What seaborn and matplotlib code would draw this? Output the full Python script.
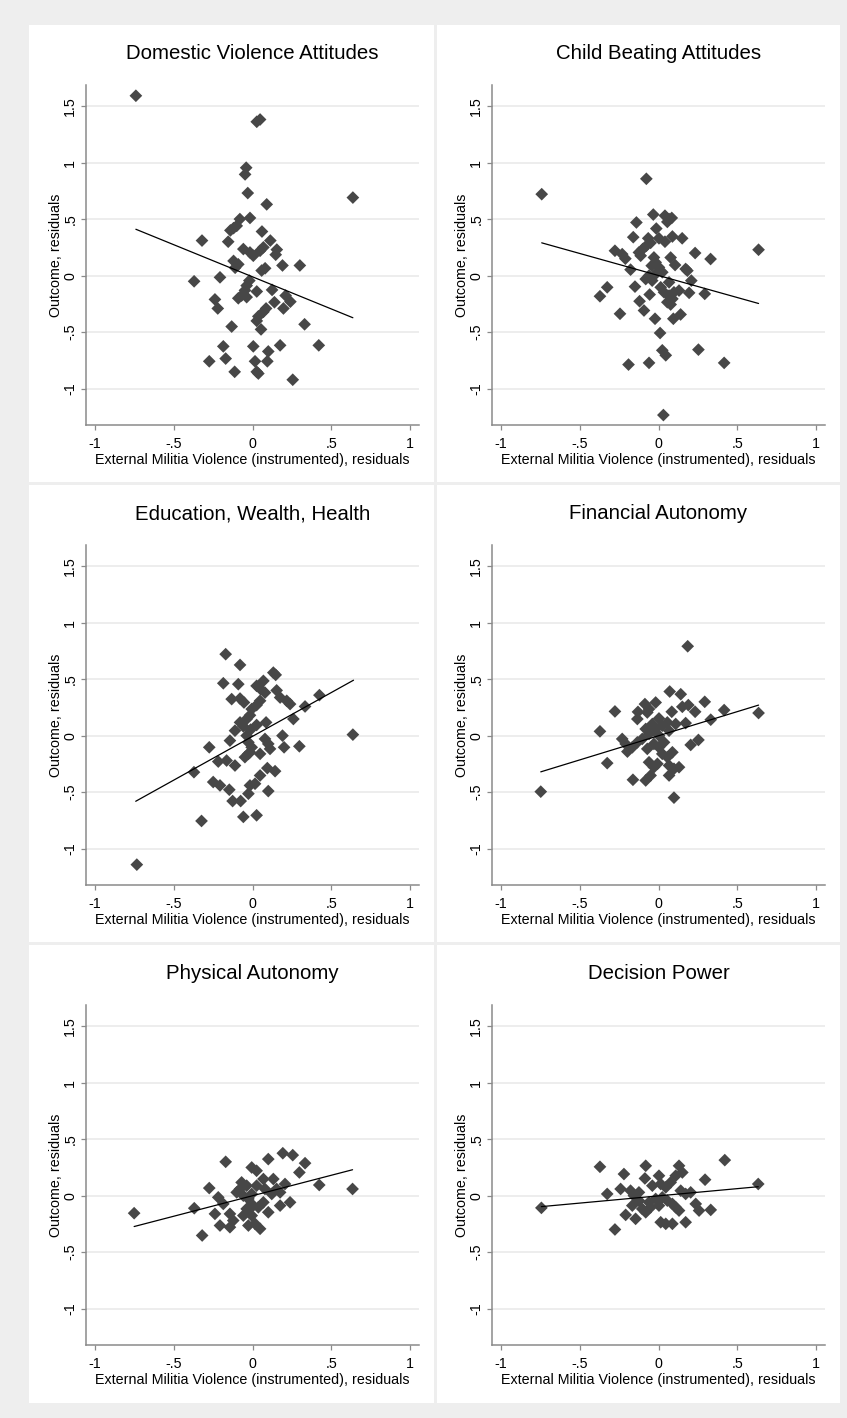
import numpy as np
import pandas as pd
import matplotlib
matplotlib.use("Agg")
import matplotlib.pyplot as plt
import seaborn as sns
from matplotlib.patches import Rectangle

sns.set_theme(style="ticks")
plt.rcParams['font.family'] = ['Liberation Sans', 'DejaVu Sans']

# ---------------- data ----------------
titles = ["Domestic Violence Attitudes", "Child Beating Attitudes",
          "Education, Wealth, Health", "Financial Autonomy",
          "Physical Autonomy", "Decision Power"]
x_label = "External Militia Violence (instrumented), residuals"
y_label = "Outcome, residuals"
x_ticks = [-1, -0.5, 0, 0.5, 1]
x_tick_labels = ["-1", "-.5", "0", ".5", "1"]
y_ticks = [-1, -0.5, 0, 0.5, 1, 1.5]
y_tick_labels = ["-1", "-.5", "0", ".5", "1", "1.5"]

dv_points = [(-0.739, 1.59), (0.027, 1.36), (0.048, 1.38), (-0.04, 0.954), (-0.047, 0.895),
             (-0.03, 0.73), (0.09, 0.63), (0.636, 0.69), (-0.08, 0.50), (-0.016, 0.51),
             (-0.10, 0.44), (-0.14, 0.40), (-0.12, 0.42), (-0.32, 0.31), (-0.154, 0.30),
             (0.06, 0.39), (0.113, 0.31), (0.154, 0.23), (0.147, 0.185), (-0.058, 0.235),
             (-0.016, 0.205), (0.005, 0.176), (0.048, 0.22), (0.069, 0.25), (-0.12, 0.13),
             (-0.09, 0.10), (-0.11, 0.07), (0.19, 0.09), (0.30, 0.09), (0.058, 0.045),
             (0.08, 0.065), (-0.37, -0.05), (-0.206, -0.015), (-0.02, -0.044), (-0.037, -0.088),
             (-0.048, -0.13), (-0.069, -0.176), (-0.09, -0.2), (-0.037, -0.19), (0.027, -0.14),
             (0.124, -0.126), (0.21, -0.176), (0.24, -0.23), (0.196, -0.29), (0.139, -0.235),
             (-0.238, -0.21), (-0.22, -0.29), (0.086, -0.29), (0.069, -0.32), (0.037, -0.36),
             (0.027, -0.40), (0.054, -0.475), (-0.132, -0.45), (0.33, -0.43), (-0.185, -0.625),
             (0.005, -0.625), (0.10, -0.67), (0.175, -0.616), (0.42, -0.616), (-0.274, -0.757),
             (-0.17, -0.733), (0.016, -0.757), (0.094, -0.757), (-0.113, -0.85), (0.027, -0.85),
             (0.037, -0.865), (0.255, -0.92)]
dv_fit = [(-0.739, 0.41), (0.636, -0.372)]

cb_points = [(-0.74, 0.72), (-0.077, 0.856), (-0.033, 0.54), (0.041, 0.53), (0.067, 0.50),
             (0.084, 0.51), (0.056, 0.475), (-0.14, 0.47), (-0.014, 0.416), (-0.16, 0.34),
             (-0.065, 0.33), (-0.05, 0.29), (-0.077, 0.264), (-0.10, 0.235), (-0.124, 0.205),
             (-0.113, 0.176), (0.003, 0.33), (0.041, 0.30), (0.088, 0.346), (0.15, 0.33),
             (-0.276, 0.22), (-0.23, 0.19), (-0.21, 0.15), (0.232, 0.20), (0.33, 0.147),
             (0.634, 0.229), (-0.029, 0.161), (-0.018, 0.117), (-0.043, 0.088), (0.003, 0.073),
             (0.024, 0.03), (-0.018, 0.015), (-0.06, 0.0), (-0.081, -0.03), (-0.04, -0.044),
             (0.077, 0.16), (0.105, 0.094), (0.172, 0.059), (0.183, 0.044), (-0.177, 0.053),
             (0.208, -0.044), (0.067, -0.059), (0.014, -0.103), (0.035, -0.147), (0.067, -0.176),
             (0.088, -0.205), (0.098, -0.147), (0.13, -0.132), (0.056, -0.235), (0.077, -0.255),
             (-0.149, -0.097), (-0.325, -0.103), (-0.371, -0.182), (-0.056, -0.167), (0.194, -0.152),
             (0.293, -0.161), (-0.12, -0.226), (-0.092, -0.308), (-0.244, -0.337), (-0.022, -0.381),
             (0.094, -0.381), (0.14, -0.343), (0.01, -0.507), (0.024, -0.66), (0.046, -0.704),
             (0.253, -0.654), (-0.19, -0.786), (-0.06, -0.771), (0.416, -0.771), (0.031, -1.232)]
cb_fit = [(-0.74, 0.29), (0.634, -0.246)]

ewh_points = [(-0.733, -1.14), (-0.17, 0.72), (-0.079, 0.625), (0.132, 0.557), (0.147, 0.537),
              (-0.185, 0.463), (-0.09, 0.455), (0.026, 0.44), (0.069, 0.484), (0.052, 0.41),
              (0.079, 0.38), (0.153, 0.40), (0.175, 0.337), (0.217, 0.308), (0.238, 0.279),
              (-0.132, 0.323), (-0.079, 0.328), (-0.054, 0.293), (0.048, 0.308), (0.026, 0.27),
              (-0.005, 0.235), (0.424, 0.358), (0.333, 0.258), (0.259, 0.147), (-0.016, 0.18),
              (-0.037, 0.147), (-0.079, 0.117), (-0.058, 0.082), (-0.111, 0.044), (0.026, 0.094),
              (0.086, 0.117), (-0.012, 0.053), (-0.143, -0.044), (-0.037, 0.0), (-0.026, -0.059),
              (-0.005, -0.103), (-0.016, -0.147), (-0.048, -0.19), (-0.026, -0.161), (0.079, -0.029),
              (0.10, -0.073), (0.111, -0.117), (0.048, -0.161), (0.19, 0.0), (0.20, -0.103),
              (0.297, -0.094), (0.636, 0.009), (-0.274, -0.103), (-0.217, -0.229), (-0.164, -0.22),
              (-0.111, -0.264), (0.048, -0.352), (0.094, -0.287), (0.143, -0.314), (0.10, -0.49),
              (-0.249, -0.41), (-0.206, -0.44), (-0.147, -0.478), (-0.016, -0.44), (0.016, -0.425),
              (-0.026, -0.513), (-0.126, -0.578), (-0.075, -0.578), (-0.058, -0.718), (0.026, -0.704),
              (-0.323, -0.754), (-0.371, -0.323)]
ewh_fit = [(-0.74, -0.58), (0.64, 0.49)]

fa_points = [(-0.746, -0.495), (0.185, 0.79), (0.071, 0.39), (0.141, 0.366), (-0.086, 0.279),
             (-0.06, 0.235), (-0.018, 0.293), (-0.071, 0.205), (-0.276, 0.214), (-0.13, 0.21),
             (-0.134, 0.147), (0.084, 0.211), (0.151, 0.255), (0.189, 0.27), (0.232, 0.211),
             (0.293, 0.299), (0.416, 0.226), (0.634, 0.2), (0.331, 0.141), (0.003, 0.152),
             (-0.039, 0.103), (0.024, 0.088), (0.056, 0.117), (-0.018, 0.059), (-0.081, 0.059),
             (-0.06, 0.015), (0.003, 0.0), (0.109, 0.103), (0.172, 0.111), (0.067, 0.044),
             (-0.371, 0.038), (-0.23, -0.029), (-0.208, -0.073), (-0.197, -0.141), (-0.166, -0.103),
             (-0.134, -0.059), (-0.103, -0.029), (-0.071, -0.117), (-0.029, -0.073), (0.003, -0.103),
             (0.024, -0.161), (0.056, -0.19), (0.088, -0.147), (0.035, -0.059), (-0.007, -0.249),
             (0.204, -0.082), (0.253, -0.038), (-0.325, -0.243), (-0.06, -0.235), (-0.029, -0.279),
             (0.067, -0.264), (0.098, -0.293), (0.13, -0.279), (0.067, -0.352), (-0.162, -0.39),
             (-0.081, -0.396), (-0.05, -0.352), (0.098, -0.548)]
fa_fit = [(-0.746, -0.32), (0.634, 0.27)]

pa_points = [(-0.75, -0.155), (-0.369, -0.111), (-0.319, -0.352), (-0.274, 0.067), (-0.17, 0.299),
             (-0.238, -0.161), (-0.206, -0.264), (-0.143, -0.279), (-0.217, -0.015), (-0.185, -0.073),
             (-0.143, -0.161), (-0.122, -0.22), (-0.1, 0.029), (-0.069, 0.117), (-0.079, 0.059),
             (-0.037, 0.088), (-0.058, 0.0), (-0.026, -0.029), (-0.005, 0.015), (0.005, -0.088),
             (-0.037, -0.117), (-0.058, -0.176), (-0.005, -0.176), (-0.026, -0.264), (0.016, -0.249),
             (0.048, -0.293), (0.037, -0.103), (0.069, -0.059), (0.026, 0.088), (-0.005, 0.249),
             (0.026, 0.22), (0.069, 0.147), (0.1, 0.323), (0.132, 0.147), (0.175, 0.029),
             (0.206, 0.103), (0.238, -0.059), (0.175, -0.088), (0.1, -0.147), (0.153, 0.059),
             (0.122, 0.015), (0.079, 0.059), (0.192, 0.375), (0.255, 0.358), (0.333, 0.287),
             (0.297, 0.205), (0.423, 0.094), (0.634, 0.059)]
pa_fit = [(-0.75, -0.273), (0.634, 0.229)]

dp_points = [(-0.742, -0.108), (-0.371, 0.255), (-0.325, 0.015), (-0.276, -0.299), (-0.219, 0.191),
             (-0.24, 0.059), (-0.081, 0.264), (-0.086, 0.152), (-0.208, -0.17), (-0.145, -0.205),
             (-0.177, 0.044), (-0.156, 0.0), (-0.166, -0.088), (-0.124, -0.044), (-0.103, -0.117),
             (-0.081, -0.147), (-0.05, -0.103), (-0.124, 0.029), (-0.039, 0.088), (0.003, 0.176),
             (0.014, 0.103), (0.046, 0.073), (0.077, 0.117), (0.109, 0.176), (0.13, 0.264),
             (0.151, 0.205), (0.141, 0.044), (0.172, 0.015), (0.204, 0.029), (0.024, -0.015),
             (0.056, -0.044), (0.088, -0.073), (-0.018, -0.029), (0.003, -0.088), (-0.06, -0.059),
             (0.109, -0.103), (0.13, -0.132), (0.014, -0.235), (0.046, -0.249), (0.088, -0.249),
             (0.172, -0.235), (0.236, -0.073), (0.257, -0.132), (0.331, -0.126), (0.295, 0.141),
             (0.42, 0.314), (0.632, 0.103)]
dp_fit = [(-0.742, -0.097), (0.632, 0.079)]

panels = [(dv_points, dv_fit), (cb_points, cb_fit), (ewh_points, ewh_fit),
          (fa_points, fa_fit), (pa_points, pa_fit), (dp_points, dp_fit)]

# ---------------- figure ----------------
W, H = 847, 1418
fig = plt.figure(figsize=(W / 100, H / 100), dpi=100, facecolor="#eeeeee")

def px_rect(x0, y0, x1, y1):
    return [x0 / W, 1 - y1 / H, (x1 - x0) / W, (y1 - y0) / H]

# white panel backgrounds
cols = [(29, 434), (437, 840)]
rows = [(25, 482), (485, 942), (945, 1403)]
for (r0, r1) in rows:
    for (c0, c1) in cols:
        b = px_rect(c0, r0, c1, r1)
        fig.add_artist(Rectangle((b[0], b[1]), b[2], b[3], transform=fig.transFigure,
                                 facecolor="white", edgecolor="none", zorder=0))

marker_color = "#474747"
axis_color = "#8a8a8a"
for i, (title, (pts, fit)) in enumerate(zip(titles, panels)):
    r, c = divmod(i, 2)
    left = 86 + 406 * c
    top = 85 + 460 * r
    ax = fig.add_axes(px_rect(left, top, left + 333, top + 340))
    ax.set_facecolor("white")
    df = pd.DataFrame(pts, columns=["x", "y"])
    fdf = pd.DataFrame(fit, columns=["x", "y"])
    ax.yaxis.grid(True, color="#e8e8e8", lw=1.1)
    ax.set_axisbelow(True)
    sns.scatterplot(data=df, x="x", y="y", marker="D", s=42, color=marker_color,
                    edgecolor="none", linewidth=0, ax=ax, zorder=3)
    sns.lineplot(data=fdf, x="x", y="y", color="black", lw=0.9, ax=ax, zorder=4)
    ax.set_xlim(-1.055, 1.055)
    ax.set_ylim(-1.32, 1.685)
    ax.set_xticks(x_ticks)
    ax.set_xticklabels(x_tick_labels)
    ax.set_yticks(y_ticks)
    ax.set_yticklabels(y_tick_labels, rotation=90, va="center")
    for s in ["top", "right"]:
        ax.spines[s].set_visible(False)
    for s in ["left", "bottom"]:
        ax.spines[s].set_color(axis_color)
        ax.spines[s].set_linewidth(1.1)
    ax.tick_params(axis="both", direction="out", length=3.8, width=0.9, color=axis_color,
                   labelsize=10.3, labelcolor="black")
    ax.tick_params(axis="x", pad=4.5)
    ax.tick_params(axis="y", pad=2.5)
    ax.set_xlabel(x_label, fontsize=10.3, color="black", labelpad=1.5)
    ax.set_ylabel(y_label, fontsize=10.3, color="black", labelpad=0.5)
    ax.set_title(title, fontsize=14.7, color="black", pad=18.5)

fig.savefig("out.png", dpi=100, facecolor=fig.get_facecolor())
